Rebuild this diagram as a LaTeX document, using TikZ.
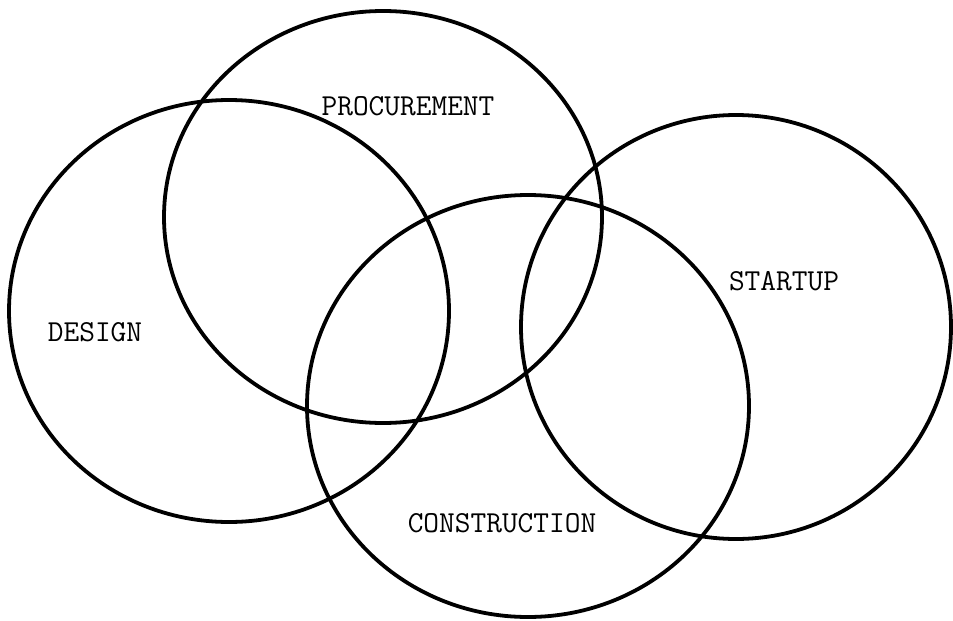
\documentclass[tikz,border=0pt]{standalone}
\usepackage{tikz}
\tikzset{
  phase/.style={draw=black, line width=3.8pt},
  phaselbl/.style={font=\fontsize{30.5}{32}\selectfont\ttfamily, text=black, inner sep=0pt},
}
\begin{document}
\begin{tikzpicture}[x=1pt,y=-1pt]
\useasboundingbox (0,0) rectangle (953,621);
% the four overlapping project phases
\draw[phase] (229,311) ellipse [x radius=220, y radius=211];
\draw[phase] (383,217) ellipse [x radius=219, y radius=206];
\draw[phase] (528,406) ellipse [x radius=221, y radius=211];
\draw[phase] (736,327) ellipse [x radius=215, y radius=212];
\node[phaselbl] (design) at (95,332)  {DESIGN};
\node[phaselbl] (proc)   at (408,106) {PROCUREMENT};
\node[phaselbl] (start)  at (784,281) {STARTUP};
\node[phaselbl] (constr) at (502,523) {CONSTRUCTION};
\end{tikzpicture}
\end{document}
